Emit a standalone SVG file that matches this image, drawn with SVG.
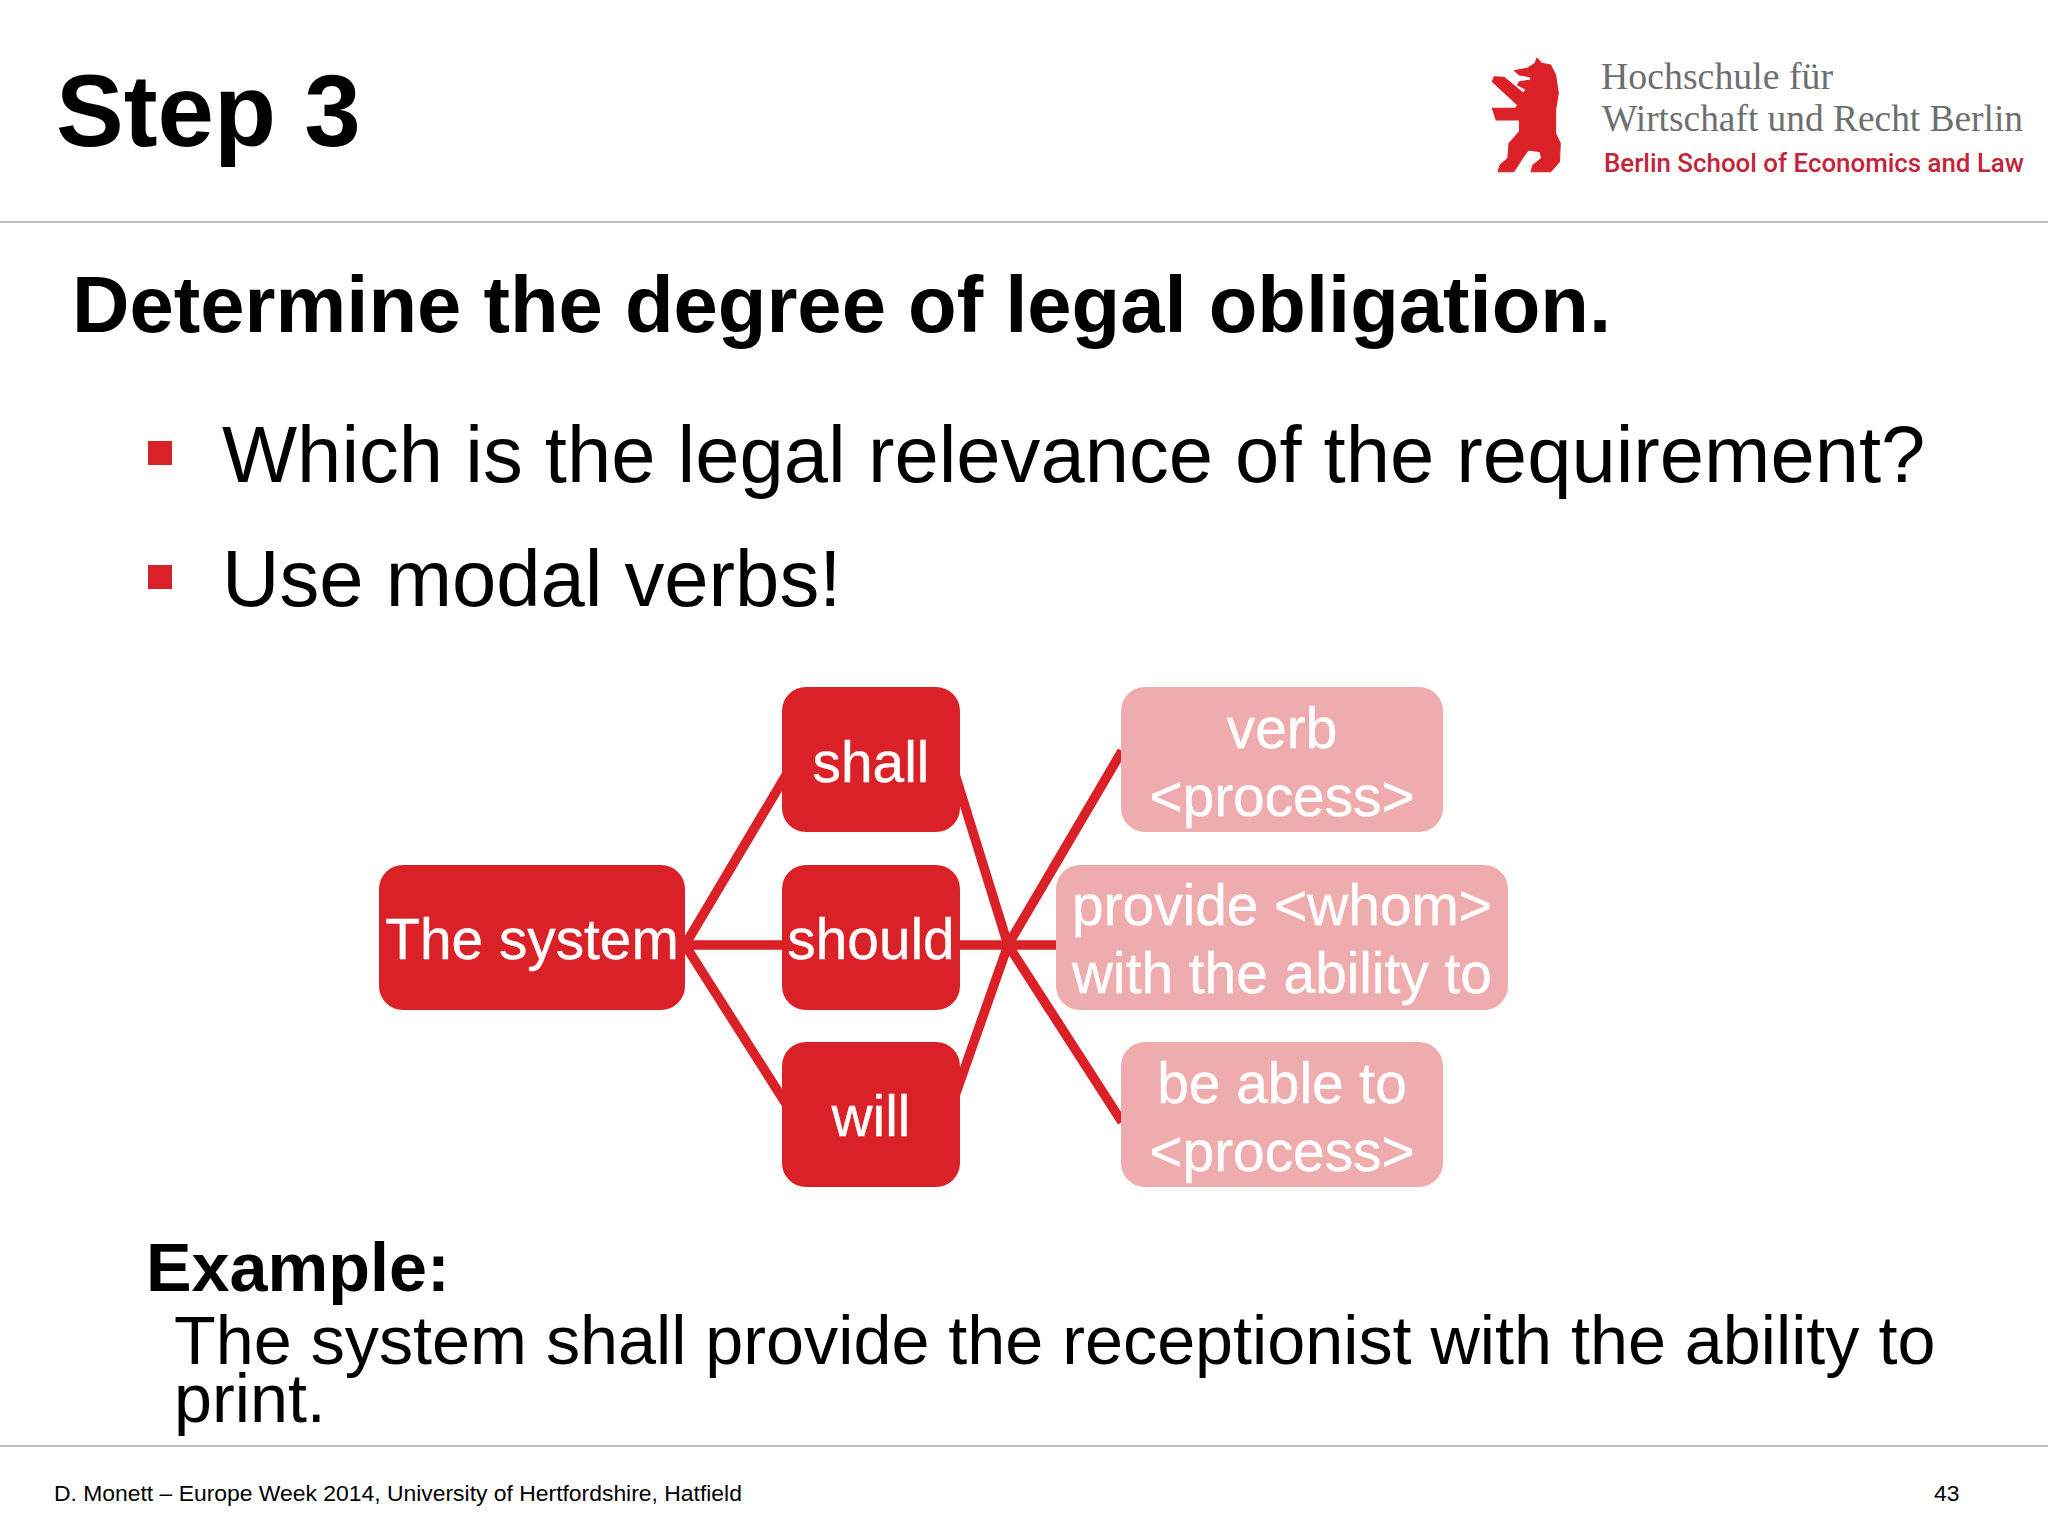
<svg xmlns="http://www.w3.org/2000/svg" width="2048" height="1536" viewBox="0 0 2048 1536">
<style>
text{font-family:"Liberation Sans",Arial,sans-serif;fill:#000}
.b{font-weight:bold}
.node{fill:#da2127}
.light{fill:#efacae}
.nt{fill:#fff;font-size:56.8px;text-anchor:middle;stroke:#fff;stroke-width:0.4}
.c{stroke:#da2127;stroke-width:9.5;fill:none}
.rule{stroke:#bdbdbd;stroke-width:2}
.bul{fill:#da2127}
</style>
<rect width="2048" height="1536" fill="#fff"/>
<line class="rule" x1="0" y1="222" x2="2048" y2="222"/>
<line class="rule" x1="0" y1="1446" x2="2048" y2="1446"/>
<text class="b" x="56" y="146" font-size="101.5">Step 3</text>
<g id="logo">
<polygon fill="#da2127" stroke="#da2127" stroke-width="3" transform="translate(1440,30) scale(0.3878,0.3333)" points="250,85 262,100 285,105 298,135 305,190 298,240 298,310 310,340 308,395 285,425 235,425 240,405 262,385 258,365 228,360 215,380 190,425 150,425 155,405 175,385 178,340 205,305 205,270 145,270 135,235 195,235 200,225 135,155 140,140 165,142 215,190 222,178 200,165 205,155 235,150 232,140 205,135 192,122 225,115 245,100"/>
<text x="1601" y="89" font-size="37" style="font-family:'Liberation Serif',serif;fill:#6d6e70" textLength="232" lengthAdjust="spacingAndGlyphs">Hochschule für</text>
<text x="1602" y="131" font-size="37" style="font-family:'Liberation Serif',serif;fill:#6d6e70" textLength="421" lengthAdjust="spacingAndGlyphs">Wirtschaft und Recht Berlin</text>
<text x="1604" y="172" font-size="26" font-weight="500" style="font-family:Roboto,sans-serif;fill:#c4243a" textLength="420" lengthAdjust="spacingAndGlyphs">Berlin School of Economics and Law</text>
</g>
<text class="b" x="72" y="332" font-size="79.6">Determine the degree of legal obligation.</text>
<rect class="bul" x="148" y="441" width="24" height="24"/>
<rect class="bul" x="148" y="565" width="24" height="24"/>
<text x="222" y="482" font-size="79.6">Which is the legal relevance of the requirement?</text>
<text x="222" y="606" font-size="79.6">Use modal verbs!</text>
<g id="connectors">
<path class="c" d="M685 945L795 760M685 945H795M685 945L795 1118"/>
<path class="c" d="M950 758L1008 945L950 1110M950 945H1056M1122 751L1008 945L1122 1122"/>
</g>
<g id="n-system"><rect class="node" x="379" y="865" width="306" height="145" rx="24"/><text class="nt" x="532" y="959">The system</text></g>
<g id="n-shall"><rect class="node" x="782" y="687" width="178" height="145" rx="24"/><text class="nt" x="871" y="782">shall</text></g>
<g id="n-should"><rect class="node" x="782" y="865" width="178" height="145" rx="24"/><text class="nt" x="871" y="959">should</text></g>
<g id="n-will"><rect class="node" x="782" y="1042" width="178" height="145" rx="24"/><text class="nt" x="871" y="1136">will</text></g>
<g id="n-verb"><rect class="light" x="1121" y="687" width="322" height="145" rx="24"/><text class="nt" x="1282" y="748">verb</text><text class="nt" x="1282" y="816">&lt;process&gt;</text></g>
<g id="n-provide"><rect class="light" x="1056" y="865" width="452" height="145" rx="24"/><text class="nt" x="1282" y="925">provide &lt;whom&gt;</text><text class="nt" x="1282" y="993">with the ability to</text></g>
<g id="n-able"><rect class="light" x="1121" y="1042" width="322" height="145" rx="24"/><text class="nt" x="1282" y="1103">be able to</text><text class="nt" x="1282" y="1171">&lt;process&gt;</text></g>
<text class="b" x="146" y="1291" font-size="68.3">Example:</text>
<text x="174" y="1364" font-size="68.3">The system shall provide the receptionist with the ability to</text>
<text x="174" y="1422" font-size="68.3">print.</text>
<text x="54" y="1501" font-size="22.9">D. Monett – Europe Week 2014, University of Hertfordshire, Hatfield</text>
<text x="1934" y="1501" font-size="22.9">43</text>
</svg>
